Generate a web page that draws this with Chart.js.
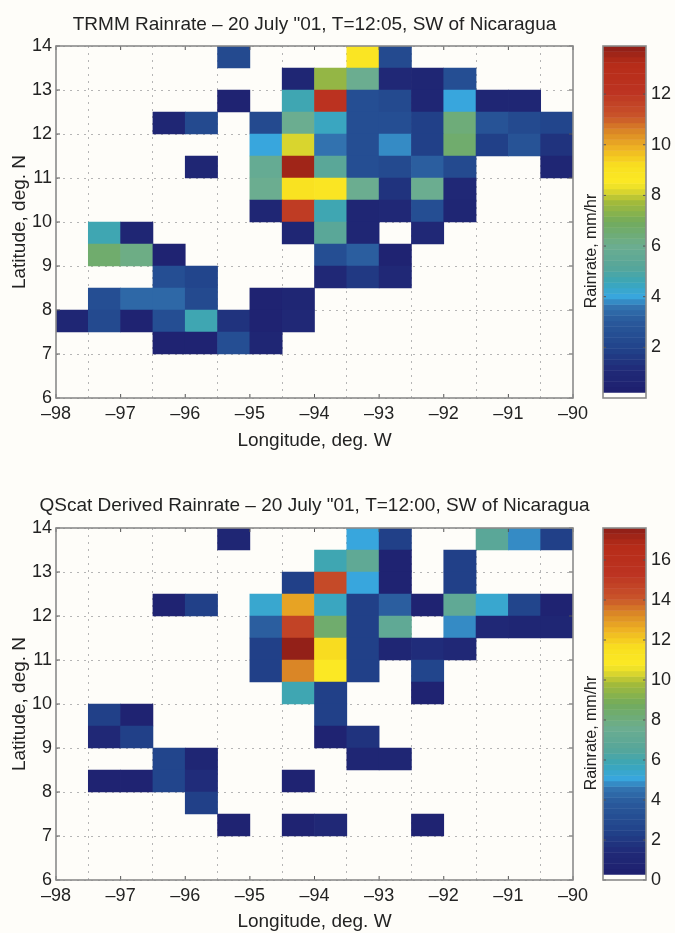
<!DOCTYPE html>
<html><head><meta charset="utf-8">
<script src="https://cdn.jsdelivr.net/npm/chart.js@4"></script>
<style>
html,body{margin:0;padding:0;background:#fefdf9;width:675px;height:933px;overflow:hidden}
canvas{position:absolute;filter:blur(0.45px)}
</style></head><body>
<canvas id="c1" style="left:0;top:0"></canvas>
<canvas id="b1" style="left:578px;top:0"></canvas>
<canvas id="c2" style="left:0;top:482px"></canvas>
<canvas id="b2" style="left:578px;top:482px"></canvas>
<script>
const _ = null;
const lonBins = [-98,-97.5,-97,-96.5,-96,-95.5,-95,-94.5,-94,-93.5,-93,-92.5,-92,-91.5,-91,-90.5];
const latBins = [13.5,13,12.5,12,11.5,11,10.5,10,9.5,9,8.5,8,7.5,7];
const trmmRain = [
[_,_,_,_,_,2.3,_,_,_,8.8,2.3,_,_,_,_,_],
[_,_,_,_,_,_,_,.7,7.4,6,1,.7,2.4,_,_,_],
[_,_,_,_,_,.6,_,4.6,12.2,2.4,2.2,.7,4.1,.8,.7,_],
[_,_,_,.7,2.3,_,2.3,6,4.4,2.4,2.5,1.9,6.4,2.7,2.2,2],
[_,_,_,_,_,_,4.1,8.2,3.5,2.6,3.8,1.8,6.7,1.9,2.8,1.4],
[_,_,_,_,.7,_,5.8,13.6,5.4,2.5,2.3,3.1,2.3,_,_,.7],
[_,_,_,_,_,_,6,9,8.7,6,1.5,6,.9,_,_,_],
[_,_,_,_,_,_,.7,11.8,4.6,.8,1,2.5,.7,_,_,_],
[_,4.6,.8,_,_,_,_,.8,5.3,.7,_,1,_,_,_,_],
[_,6.6,6.1,.6,_,_,_,_,2.4,3.2,.6,_,_,_,_,_],
[_,_,_,2.4,2.1,_,_,_,.9,1.7,1,_,_,_,_,_],
[_,2.4,3.3,3.3,2.2,_,.6,.8,_,_,_,_,_,_,_,_],
[.7,2.2,.5,2.4,4.7,1.4,.6,.9,_,_,_,_,_,_,_,_],
[_,_,_,.5,.5,2.5,.8,_,_,_,_,_,_,_,_,_]
];
const qscatRain = [
[_,_,_,_,_,.9,_,_,_,5.2,2.3,_,_,6.8,4.9,2.3],
[_,_,_,_,_,_,_,_,5.8,7,.8,_,2.3,_,_,_],
[_,_,_,_,_,_,_,2.3,14.5,5.2,.8,_,2.3,_,_,_],
[_,_,_,.8,2.3,_,5.4,12.8,5.6,2.3,4,.6,7,5.4,2.5,.8],
[_,_,_,_,_,_,4,14.8,8.3,2.3,7,_,4.8,1.2,1,1],
[_,_,_,_,_,_,2.3,17.4,11.8,2.3,1,1.4,1.3,_,_,_],
[_,_,_,_,_,_,2.3,13.3,10.8,2.3,_,2.5,_,_,_,_],
[_,_,_,_,_,_,_,6,2.4,_,_,.8,_,_,_,_],
[_,2.3,.8,_,_,_,_,_,2.4,_,_,_,_,_,_,_],
[_,1.2,2.3,_,_,_,_,_,.8,1.9,_,_,_,_,_,_],
[_,_,_,2.5,.9,_,_,_,_,.9,.9,_,_,_,_,_],
[_,.8,.8,2.6,1.6,_,_,.8,_,_,_,_,_,_,_,_],
[_,_,_,_,2.4,_,_,_,_,_,_,_,_,_,_,_],
[_,_,_,_,_,.8,_,.8,1.1,_,_,.6,_,_,_,_]
];
const rampStops  = [0.016,0.08,0.14,0.22,0.26,0.29,0.33,0.37,0.43,0.50,0.56,0.58,0.61,0.66,0.71,0.76,0.80,0.87,0.95,1.0];
const rampColors = ['#1e1f6e','#202a78','#21438a','#2a5a9c','#3273b0','#38a8de','#3ba6b6','#56a69a','#6bad90','#72ab5c','#a6bc38','#d0d030','#fbe925','#f9e020','#eeb323','#d98426','#c9542a','#bc3322','#b62c18','#8c1e18'];
const levelCount = 64;
const trmmMax = 13.9, qscatMax = 17.6;
const latTicks = [6,7,8,9,10,11,12,13,14];
const lonTicks = [-98,-97,-96,-95,-94,-93,-92,-91,-90];
const trmmBarTicks = [2,4,6,8,10,12];
const qscatBarTicks = [0,2,4,6,8,10,12,14,16];
const titles = ['TRMM Rainrate \u2013 20 July "01, T=12:05, SW of Nicaragua','QScat Derived Rainrate \u2013 20 July "01, T=12:00, SW of Nicaragua'];

const FONT = '"Liberation Sans", Arial, sans-serif';
const INK = '#232323', FRAME = '#8b8b8b', GRID = '#b5b5b5';
function rgb(h){return [1,3,5].map(i=>parseInt(h.substr(i,2),16));}
function rampColor(f){
  const q=(Math.min(Math.floor(f*levelCount),levelCount-1)+.5)/levelCount;
  let i=0; while(i<rampStops.length-2 && q>rampStops[i+1]) i++;
  const t=Math.max(0,Math.min(1,(q-rampStops[i])/(rampStops[i+1]-rampStops[i])));
  const a=rgb(rampColors[i]),b=rgb(rampColors[i+1]);
  return 'rgb('+a.map((v,k)=>Math.round(v+(b[k]-v)*t)).join(',')+')';
}
function framePlugin(ids,len){return {id:'frame',afterDraw(ch){
  const c=ch.ctx,a=ch.chartArea; c.save();
  c.strokeStyle='#555'; c.lineWidth=1;c.beginPath();
  ids.forEach(id=>{const s=ch.scales[id]; if(!s)return;
    s.ticks.forEach(t=>{const p=s.getPixelForValue(t.value);
      if(s.isHorizontal()){c.moveTo(p,a.top);c.lineTo(p,a.top+len);c.moveTo(p,a.bottom);c.lineTo(p,a.bottom-len);}
      else{c.moveTo(a.left,p);c.lineTo(a.left+len,p);c.moveTo(a.right,p);c.lineTo(a.right-len,p);}
    });});
  c.stroke();
  c.strokeStyle=FRAME;c.lineWidth=1.6;c.strokeRect(a.left,a.top,a.right-a.left,a.bottom-a.top);
  c.restore();
}};}
const titleSpan = {id:'titleSpan',beforeDraw(ch){ch.titleBlock.left=0;ch.titleBlock.right=ch.width;}};
function makeMap(id,rows,maxV,title,H,titleTop,xTitlePad){
  const cv=document.getElementById(id); cv.width=629; cv.height=H;
  const cells=[],cols=[];
  rows.forEach((r,j)=>r.forEach((v,i)=>{ if(v===null)return;
    cells.push({x:lonBins[i]+.25,y:[latBins[j],latBins[j]+.5]});
    cols.push(rampColor(v/maxV)); }));
  new Chart(cv,{type:'bar',
    data:{datasets:[{data:cells,backgroundColor:cols,borderWidth:0,barPercentage:1,categoryPercentage:1}]},
    options:{responsive:false,animation:false,events:[],
      layout:{padding:{left:0,right:56,top:0,bottom:0}},
      plugins:{legend:{display:false},tooltip:{enabled:false},
        title:{display:true,fullSize:false,text:title,color:INK,font:{family:FONT,size:19,weight:'normal',lineHeight:1.2},padding:{top:titleTop,bottom:46-titleTop-22.8}}},
      scales:{
        x:{type:'linear',offset:false,min:-98,max:-90,
          afterBuildTicks(s){s.ticks=lonTicks.map(v=>({value:v}));},
          afterFit(s){s.height=H-398;},
          ticks:{color:INK,font:{family:FONT,size:18},padding:5,maxRotation:0,autoSkip:false,callback:v=>String(v).replace('-','\u2013')},
          grid:{color:GRID,drawTicks:false,lineWidth:1},border:{display:false,dash:[2,5]},
          title:{display:true,text:'Longitude, deg. W',color:INK,font:{family:FONT,size:19,lineHeight:1.2},padding:{top:0,bottom:xTitlePad}}},
        y:{type:'linear',min:6,max:14,
          afterBuildTicks(s){s.ticks=latTicks.map(v=>({value:v}));},
          afterFit(s){s.width=56;},
          ticks:{color:INK,font:{family:FONT,size:18},padding:4,autoSkip:false},
          grid:{color:GRID,drawTicks:false,lineWidth:1},border:{display:false,dash:[2,5]},
          title:{display:true,text:'Latitude, deg. N',color:INK,font:{family:FONT,size:19,lineHeight:1.2},padding:{top:8,bottom:0}}}
      }},
    plugins:[titleSpan,framePlugin(['x','y'],4)]});
}
const labelShift = {id:'labelShift',beforeDraw(ch){const s=ch.scales.yl; if(!s._moved){s.top+=29;s.bottom+=29;s._moved=true;}}};
function makeBar(id,maxV,barTicks,H){
  const cv=document.getElementById(id); cv.width=97; cv.height=H;
  const levels=[],cols=[];
  for(let i=0;i<levelCount;i++){
    levels.push({x:.5,y:[i*maxV/levelCount,(i+1)*maxV/levelCount]});
    cols.push(i===0?'#fefdf9':rampColor((i+.5)/levelCount));
  }
  new Chart(cv,{type:'bar',
    data:{datasets:[{data:levels,backgroundColor:cols,borderWidth:0,barThickness:45,yAxisID:'y'}]},
    options:{responsive:false,animation:false,events:[],
      layout:{padding:{left:0,right:0,top:46,bottom:H-398}},
      plugins:{legend:{display:false},tooltip:{enabled:false}},
      scales:{
        x:{type:'linear',display:false,min:0,max:1,offset:false},
        yl:{type:'linear',position:'left',min:0,max:maxV,
          afterFit(s){s.width=25;},
          ticks:{display:false},grid:{display:false},border:{display:false},
          title:{display:true,text:'Rainrate, mm/hr',color:INK,font:{family:FONT,size:16,lineHeight:1.2},padding:{top:4,bottom:0}}},
        y:{type:'linear',position:'right',min:0,max:maxV,
          afterBuildTicks(s){s.ticks=barTicks.map(v=>({value:v}));},
          afterFit(s){s.width=29;},
          ticks:{color:INK,font:{family:FONT,size:18},padding:5,autoSkip:false},
          grid:{display:false,drawTicks:false},border:{display:false}}
      }},
    plugins:[labelShift,framePlugin(['y'],3)]});
}
makeMap('c1',trmmRain,trmmMax,titles[0],460,13.6,8);
makeBar('b1',trmmMax,trmmBarTicks,460);
makeMap('c2',qscatRain,qscatMax,titles[1],451,12.6,0);
makeBar('b2',qscatMax,qscatBarTicks,451);
</script>
</body></html>
